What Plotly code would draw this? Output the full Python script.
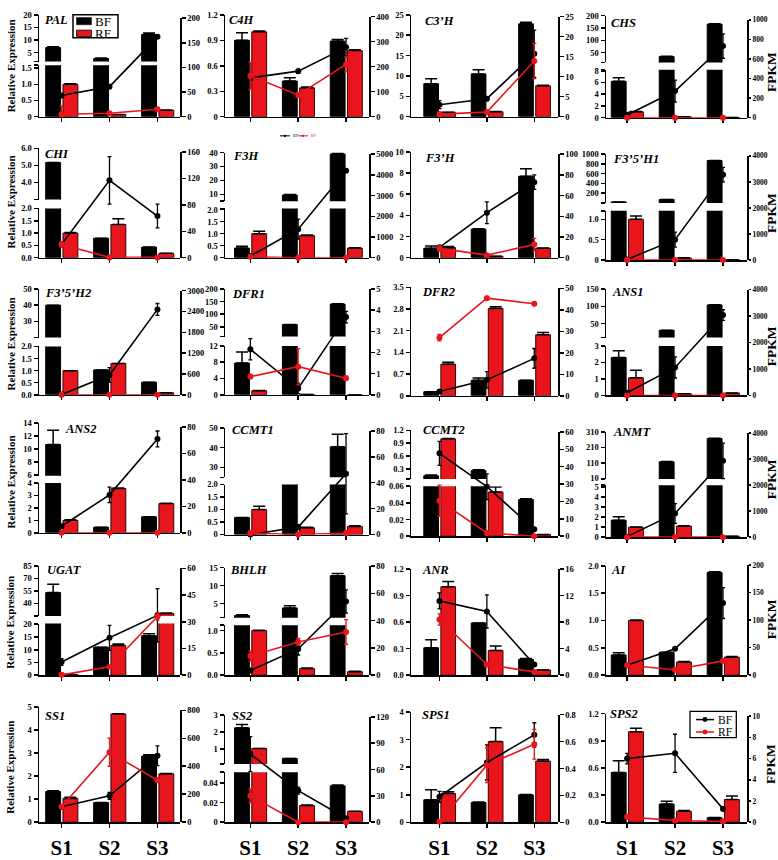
import plotly.graph_objects as go

W, H = 778, 860
FONT = "Liberation Serif, Times New Roman, serif"
BLACK = "#000000"
RED = "#e8161c"

CATS = ["S1", "S2", "S3"]
GENES = ["PAL", "C4H", "C3’H", "CHS",
         "CHI", "F3H", "F3’H", "F3’5’H1",
         "F3’5’H2", "DFR1", "DFR2", "ANS1",
         "ANS2", "CCMT1", "CCMT2", "ANMT",
         "UGAT", "BHLH", "ANR", "AI",
         "SS1", "SS2", "SPS1", "SPS2"]

# ---- relative expression (bars) ----
BF_EXPR = [[7.0, 2.65, 12.2], [0.90, 0.42, 0.89], [8.1, 10.5, 22.8], [6.2, 34, 165],
           [5.17, 0.79, 0.43], [0.4, 9.5, 39], [0.9, 2.7, 7.7], [22, 72, 870],
           [40, 1.03, 0.52], [7.8, 59, 140], [0.13, 0.5, 0.5], [2.3, 31, 104],
           [10.7, 0.45, 1.28], [0.68, 10, 40.5], [0.14, 0.26, 0.044], [1.7, 117, 268],
           [53, 11, 15.5], [1.7, 3.8, 12.8], [0.31, 0.59, 0.18], [0.37, 0.42, 1.88],
           [1.33, 0.85, 2.87], [2.26, 0.45, 0.037], [0.82, 0.72, 1.0], [0.55, 0.2, 0.05]]
BF_EXPR_ERR = [[0.3, 0.2, 0.6], [0.09, 0.04, 0.02], [1.2, 1.0, 0.4], [0.6, 1, 2],
               [0, 0, 0], [0.08, 0.3, 0.5], [0.2, 0.05, 0.7], [0, 0, 0],
               [0, 0, 0], [2.7, 0.5, 1], [0, 0.07, 0], [0.4, 0.5, 0.5],
               [2.2, 0, 0], [0, 0, 6.3], [0.02, 0.02, 0.001], [0.35, 2, 2],
               [10, 0, 0.8], [0.2, 0.6, 0.6], [0.09, 0, 0.01], [0.04, 0, 0.01],
               [0.03, 0, 0.06], [0.2, 0, 0.001], [0.36, 0.02, 0.01], [0.13, 0.03, 0]]
RF_EXPR = [[1.0, 0.07, 0.2], [1.0, 0.34, 0.78], [1.1, 1.2, 7.6], [1.0, 0.15, 0.05],
           [1.0, 1.35, 0.18], [1.0, 0.92, 0.4], [0.95, 0.15, 0.9], [1.0, 0.05, 0.01],
           [1.0, 1.3, 0.08], [1.0, 0.1, 0.0], [1.02, 2.82, 1.97], [1.07, 0.1, 0.15],
           [1.0, 3.55, 2.35], [1.0, 0.27, 0.32], [1.0, 0.053, 0.002], [1.0, 1.1, 0.1],
           [0.3, 11.7, 28], [1.0, 0.15, 0.08], [1.0, 0.28, 0.06], [1.0, 0.24, 0.33],
           [1.03, 4.7, 2.1], [1.04, 0.017, 0.011], [1.05, 2.93, 2.22], [1.0, 0.12, 0.25]]
RF_EXPR_ERR = [[0.02, 0, 0.01], [0.01, 0.01, 0.01], [0, 0.1, 0.1], [0.05, 0, 0],
               [0.02, 0.23, 0], [0.1, 0.02, 0.01], [0.1, 0, 0.02], [0.08, 0.01, 0],
               [0, 0, 0], [0.05, 0, 0], [0.06, 0.05, 0.07], [0.45, 0, 0],
               [0.05, 0.05, 0.03], [0.13, 0.02, 0.03], [0.01, 0.006, 0], [0.02, 0.03, 0],
               [0, 0.6, 0.5], [0.01, 0.01, 0.01], [0.06, 0.05, 0], [0.01, 0.01, 0.01],
               [0.05, 0.01, 0.01], [0, 0.0005, 0], [0.06, 0.5, 0.06], [0.04, 0.01, 0.04]]

# ---- FPKM (lines, right axis) ----
BF_FPKM = [[43, 61, 162], [155, 182, 277], [3.0, 4.5, 15.7], [27, 272, 732],
           [20, 117, 63], [80, 1380, 4200], [10, 43.5, 73], [25, 785, 3280],
           [5, 570, 2460], [2.15, 0.3, 3.67], [2, 7.4, 17.4], [100, 1060, 3040],
           [5, 28.7, 71], [0, 5.7, 47], [47.7, 28.5, 4], [20, 910, 2930],
           [7.4, 21, 33.6], [3.4, 19.3, 54], [11.2, 9.6, 1.6], [18, 48, 131],
           [110, 188, 475], [77.6, 36, 4.5], [0.19, 0.445, 0.65], [6.0, 6.5, 1.25]]
BF_FPKM_ERR = [[0, 2, 3], [5, 8, 36], [1.0, 0.5, 5.9], [5, 112, 125],
               [0, 36, 18], [0, 480, 60], [1, 10.5, 7], [0, 290, 280],
               [0, 210, 170], [0.5, 0.25, 0.27], [0, 3.8, 4.6], [0, 400, 200],
               [0, 5.8, 6], [0, 2, 31], [6.9, 7.4, 0], [0, 380, 680],
               [1.9, 7, 15], [0, 4.5, 8.5], [1.2, 2.5, 0], [0, 2, 28],
               [0, 25, 70], [20, 4, 0], [0.04, 0.13, 0.09], [0.5, 1.8, 0]]
RF_FPKM = [[5, 7, 15], [163, 87, 209], [0.65, 1.15, 13.9], [0, 0, 0],
           [20, 0.5, 0.5], [48, 0, 0], [9, 2.5, 12.7], [0, 0, 0],
           [0, 0, 0], [0.86, 1.33, 0.78], [27, 45.4, 42.8], [0, 0, 0],
           [0, 0, 0], [1, 0, 1], [20.4, 1.9, 0], [0, 0, 0],
           [0.2, 4.8, 33], [14, 24.4, 31.7], [8.4, 1.6, 0.5], [18, 10, 26],
           [110, 500, 300], [30, 0, 0], [0.005, 0.425, 0.58], [0.5, 0.15, 0.05]]
RF_FPKM_ERR = [[17, 2, 2], [55, 8, 30], [0.3, 0.3, 4.4], [0, 0, 0],
               [4, 0, 0], [0, 0, 0], [2.5, 0, 6], [0, 0, 0],
               [0, 0, 0], [0.1, 0.85, 0.1], [1.5, 0.8, 0.5], [0, 0, 0],
               [0, 0, 0], [2, 0, 2], [9, 0, 0], [0, 0, 0],
               [1, 0.5, 2], [3.7, 2.5, 9], [0.85, 0.3, 0.2], [2, 0, 2],
               [0, 100, 0], [8, 0, 0], [0, 0.13, 0.11], [0, 0, 0]]

# ---- axis tick labels ----
LOWER_TICKS = [["0", "0.5", "1.0", "1.5"], ["0", "0.3", "0.6", "0.9", "1.2"],
               ["0", "5", "10", "15", "20", "25"], ["0", "2", "4", "6", "8"],
               ["0.0", "0.5", "1.0", "1.5", "2.0"], ["0", "0.5", "1.0", "1.5", "2.0"],
               ["0", "2", "4", "6", "8", "10"], ["0", "0.5", "1.0"],
               ["0.0", "0.5", "1.0", "1.5", "2.0"], ["0", "4", "8", "12"],
               ["0", "0.7", "1.4", "2.1", "2.8", "3.5"], ["0", "1", "2", "3"],
               ["0", "1", "2", "3", "4"], ["0", "0.5", "1.0", "1.5", "2.0"],
               ["0", "0.02", "0.04", "0.06"], ["0", "1", "2", "3", "4", "5"],
               ["0", "5", "10", "15", "20"], ["0.0", "0.5", "1.0"],
               ["0.0", "0.3", "0.6", "0.9", "1.2"], ["0.0", "0.5", "1.0", "1.5", "2.0"],
               ["0", "1", "2", "3", "4", "5"], ["0", "0.02", "0.04"],
               ["0", "1", "2", "3", "4"], ["0.0", "0.3", "0.6", "0.9", "1.2"]]
LOWER_MAX = [1.59, 1.2, 25, 8.17, 2.0, 2.05, 10, 1.21, 2.0, 12, 3.5, 3,
             4, 2.0, 0.06, 5.2, 20.3, 1.12, 1.2, 2.0, 5, 0.051, 4, 1.2]
UPPER_TICKS = [["5", "10", "15", "20"], None, None, ["50", "100", "150", "200"],
               ["3.0", "4.0", "5.0", "6.0"], ["10", "20", "30", "40"], None,
               ["200", "400", "600", "800", "1000"],
               ["20", "30", "40", "50"], ["50", "100", "150", "200"], None, ["50", "100", "150"],
               ["6", "8", "10", "12", "14"], ["30", "40", "50"], ["0.3", "0.6", "0.9", "1.2"],
               ["10", "110", "210", "310"],
               ["25", "40", "55", "70", "85"], ["5", "10", "15"], None, None,
               None, ["1", "2", "3"], None, None]
UPPER_MIN = [1.47, None, None, 10, 3, 5, None, 1.3, 20, 11, None, 10,
             5.9, 25, 0.065, 6, 25, 1.1, None, None, None, 0.12, None, None]
RIGHT_TICKS = [["0", "50", "100", "150", "200"], ["0", "100", "200", "300", "400"],
               ["0", "5", "10", "15", "20", "25"], ["0", "200", "400", "600", "800", "1000"],
               ["0", "40", "80", "120", "160"], ["0", "1000", "2000", "3000", "4000", "5000"],
               ["0", "20", "40", "60", "80", "100"], ["0", "1000", "2000", "3000", "4000"],
               ["0", "600", "1200", "1800", "2400", "3000"], ["0", "1", "2", "3", "4", "5"],
               ["0", "10", "20", "30", "40", "50"], ["0", "1000", "2000", "3000", "4000"],
               ["0", "20", "40", "60", "80"], ["0", "20", "40", "60", "80"],
               ["0", "10", "20", "30", "40", "50", "60"], ["0", "1000", "2000", "3000", "4000"],
               ["0", "15", "30", "45", "60"], ["0", "20", "40", "60", "80"],
               ["0", "4", "8", "12", "16"], ["0", "50", "100", "150", "200"],
               ["0", "200", "400", "600", "800"], ["0", "30", "60", "90", "120"],
               ["0", "0.2", "0.4", "0.6", "0.8"], ["0", "2", "4", "6", "8", "10"]]

# ---- layout geometry (pixels) ----
COL_X = [(39, 180), (225, 369), (411, 558), (606, 747)]
COL_XRANGE = [(-0.47, 2.47), (-0.53, 2.48), (-0.6, 2.5), (-0.44, 2.5)]
PANEL_TOP = [10, 10, 10, 10.7, 145.3, 149.7, 149, 151.3, 288, 288, 286.3, 288,
             424, 429, 431.3, 433, 568.7, 570.7, 572, 568.7, 712, 720.3, 717, 718.7]
PANEL_BOT = [113.3, 113.3, 113.3, 114.3, 256.3, 256.3, 256.3, 258.7, 395.3, 395.3, 396.3, 396,
             535.3, 537, 538.7, 539.7, 679.7, 679.7, 679.7, 679.7, 828.7, 828.7, 829, 828.7]
RIGHT_TOP = [13.3, 11.7, 11.7, 15, 149, 151.3, 151.3, 153, 289.7, 288, 287.3, 288.7,
             428, 432, 433, 434, 571.3, 569, 572, 568, 715.3, 722, 719.7, 721.3]
# (upper segment bottom, lower segment top) for broken axes
BREAK_PX = [(57.3, 61), None, None, (58.3, 65.7), (197.3, 206.3), (199, 206.3), None, (200.7, 208.7),
            (337.3, 346.3), (336.3, 345.7), None, (337.3, 345.7),
            (477.3, 484.7), (479, 486.3), (480.7, 488), (480.7, 487),
            (619.7, 627.3), (621.3, 629), None, None, None, (769.7, 778), None, None]
TITLE_XY = [(43, 15), (227, 15), (423, 16.7), (609, 18),
            (43, 150.7), (231, 153), (423, 154.7), (611, 156.3),
            (43, 292), (230, 293), (420, 290.7), (610, 290.7),
            (63, 430.3), (230, 431.3), (421, 431.3), (611, 433),
            (45, 573), (228, 573), (420, 573), (609, 573),
            (43, 721.3), (230, 721.3), (420, 719.7), (608, 718.7)]
YTITLE_Y = [61.7, 199.7, 343.7, 483.7, 626, 773]
FPKM_Y = [68, 211, 346, 481, 623, 769.7]


def fx(px):
    return px / W


def fy(py):
    return 1 - py / H


tickfont = dict(family=FONT, size=8.5, color=BLACK, weight="bold")
axis_common = dict(showline=True, linecolor=BLACK, linewidth=1.5, ticks="outside",
                   ticklen=4, tickwidth=1.5, tickcolor=BLACK, showgrid=False,
                   zeroline=False, fixedrange=True, tickfont=tickfont)

fig = go.Figure()
layout = {}


def seg_vals(vals, lo):
    # bars whose top lies below this axis segment are not drawn in it
    return [v if v >= lo else None for v in vals]


def seg_err(vals, errs, lo, hi):
    # error bars only for bars whose top lies inside this axis segment
    return [e if lo <= v <= hi else None for v, e in zip(vals, errs)]


def add_bars(p, xa, ya, lo, hi):
    fig.add_trace(go.Bar(
        x=CATS, y=seg_vals(BF_EXPR[p], lo), xaxis=xa, yaxis=ya, offset=-0.33, width=0.31,
        marker=dict(color=BLACK, line=dict(color=BLACK, width=1)),
        error_y=dict(type="data", array=seg_err(BF_EXPR[p], BF_EXPR_ERR[p], lo, hi),
                     arrayminus=[0, 0, 0], symmetric=False, color=BLACK, thickness=1.5, width=6),
        showlegend=False, hoverinfo="skip"))
    fig.add_trace(go.Bar(
        x=CATS, y=seg_vals(RF_EXPR[p], lo), xaxis=xa, yaxis=ya, offset=0.03, width=0.31,
        marker=dict(color=RED, line=dict(color="#3a0000", width=1)),
        error_y=dict(type="data", array=seg_err(RF_EXPR[p], RF_EXPR_ERR[p], lo, hi),
                     arrayminus=[0, 0, 0], symmetric=False, color=BLACK, thickness=1.5, width=6),
        showlegend=False, hoverinfo="skip"))


for p in range(24):
    r, c = divmod(p, 4)
    xn = p + 1
    ylo, yup, yr = 3 * p + 1, 3 * p + 2, 3 * p + 3
    xa = f"x{xn}"
    x0, x1 = COL_X[c]
    top, bot = PANEL_TOP[p], PANEL_BOT[p]
    layout[f"xaxis{xn}"] = dict(
        axis_common, domain=[fx(x0), fx(x1)], range=list(COL_XRANGE[c]),
        anchor=f"y{ylo}", type="category", categoryorder="array", categoryarray=CATS,
        showticklabels=(r == 5), ticklabelstandoff=2,
        tickfont=dict(family=FONT, size=21, color=BLACK, weight="bold"))
    lvals = [float(t) for t in LOWER_TICKS[p]]
    ltext = list(LOWER_TICKS[p])
    broken = BREAK_PX[p] is not None
    if broken:
        ub, lt = BREAK_PX[p]
        lo_dom = [fy(bot), fy(lt)]
        lvals.append(LOWER_MAX[p])
        ltext.append("")
        umax = float(UPPER_TICKS[p][-1])
        uvals = [UPPER_MIN[p]] + [float(t) for t in UPPER_TICKS[p]]
        utext = [""] + list(UPPER_TICKS[p])
        layout[f"yaxis{yup}"] = dict(
            axis_common, domain=[fy(ub), fy(top)], range=[UPPER_MIN[p], umax],
            tickvals=uvals, ticktext=utext, anchor=xa, side="left")
    else:
        lo_dom = [fy(bot), fy(top)]
    layout[f"yaxis{ylo}"] = dict(
        axis_common, domain=lo_dom, range=[0, LOWER_MAX[p]],
        tickvals=lvals, ticktext=ltext, anchor=xa, side="left")
    rvals = [float(t) for t in RIGHT_TICKS[p]]
    rfont = dict(tickfont, size=7.5) if c == 3 else tickfont
    layout[f"yaxis{yr}"] = dict(
        axis_common, domain=[fy(bot), fy(RIGHT_TOP[p])], range=[0, rvals[-1]],
        tickvals=rvals, ticktext=RIGHT_TICKS[p], anchor=xa, side="right",
        tickfont=rfont, ticklen=(2.5 if c == 3 else 4))

    add_bars(p, xa, f"y{ylo}", 0, LOWER_MAX[p])
    if broken:
        add_bars(p, xa, f"y{yup}", UPPER_MIN[p], 1e12)

    for vals, errs, col in ((BF_FPKM[p], BF_FPKM_ERR[p], BLACK),
                            (RF_FPKM[p], RF_FPKM_ERR[p], RED)):
        fig.add_trace(go.Scatter(
            x=CATS, y=vals, xaxis=xa, yaxis=f"y{yr}", mode="lines+markers",
            line=dict(color=col, width=1.6), marker=dict(color=col, size=6),
            error_y=dict(type="data", array=errs, color=col, thickness=1.3, width=2),
            cliponaxis=False, showlegend=False, hoverinfo="skip"))

annotations = []
shapes = []
for p in range(24):
    tx, ty = TITLE_XY[p]
    annotations.append(dict(text=f"<b><i>{GENES[p]}</i></b>", x=fx(tx), y=fy(ty),
                            xref="paper", yref="paper", xanchor="left", yanchor="middle",
                            showarrow=False, font=dict(family=FONT, size=12.5, color=BLACK)))
for r in range(6):
    annotations.append(dict(text="<b>Relative Expression</b>", x=fx(10.5), y=fy(YTITLE_Y[r]),
                            xref="paper", yref="paper", textangle=-90, showarrow=False,
                            xanchor="center", yanchor="middle",
                            font=dict(family=FONT, size=11, color=BLACK)))
    annotations.append(dict(text="<b>FPKM</b>", x=fx(771), y=fy(FPKM_Y[r]),
                            xref="paper", yref="paper", textangle=-90, showarrow=False,
                            xanchor="center", yanchor="middle",
                            font=dict(family=FONT, size=13.5, color=BLACK)))


def prect(x0, y0, x1, y1, fill, line, lw):
    return dict(type="rect", xref="paper", yref="paper", x0=fx(x0), x1=fx(x1),
                y0=fy(y1), y1=fy(y0), fillcolor=fill, line=dict(color=line, width=lw))


# legend (bars) in PAL panel
shapes.append(prect(73, 10, 118, 33.3, "white", BLACK, 1.5))
shapes.append(prect(76.5, 12.7, 91.5, 20, BLACK, BLACK, 0.5))
shapes.append(prect(76.5, 25.5, 91.5, 32, RED, BLACK, 0.8))
annotations.append(dict(text="BF", x=fx(93), y=fy(16.3), xref="paper", yref="paper",
                        xanchor="left", yanchor="middle", showarrow=False,
                        font=dict(family=FONT, size=13, color=BLACK)))
annotations.append(dict(text="RF", x=fx(93), y=fy(28.8), xref="paper", yref="paper",
                        xanchor="left", yanchor="middle", showarrow=False,
                        font=dict(family=FONT, size=13, color=BLACK)))

# legend (lines) in SPS2 panel
shapes.append(prect(690, 716.3, 736.3, 743, "white", BLACK, 1.3))
for yy, col, lab in ((724.7, BLACK, "BF"), (737.3, RED, "RF")):
    shapes.append(dict(type="line", xref="paper", yref="paper", x0=fx(696), x1=fx(714),
                       y0=fy(yy), y1=fy(yy), line=dict(color=col, width=1.5)))
    shapes.append(dict(type="circle", xref="paper", yref="paper", x0=fx(702.5), x1=fx(707.5),
                       y0=fy(yy + 2.5), y1=fy(yy - 2.5), fillcolor=col, line=dict(color=col, width=0)))
    annotations.append(dict(text=lab, x=fx(716), y=fy(yy), xref="paper", yref="paper",
                            xanchor="left", yanchor="middle", showarrow=False,
                            font=dict(family=FONT, size=11.5, color=BLACK)))

# tiny legend under C4H
for xs, col, lab in ((280, BLACK, "BF"), (298, RED, "RF")):
    shapes.append(dict(type="line", xref="paper", yref="paper", x0=fx(xs), x1=fx(xs + 10),
                       y0=fy(132.7), y1=fy(132.7), line=dict(color=col, width=1)))
    shapes.append(dict(type="circle", xref="paper", yref="paper", x0=fx(xs + 3.8), x1=fx(xs + 6.2),
                       y0=fy(133.9), y1=fy(131.5), fillcolor=col, line=dict(color=col, width=0)))
    annotations.append(dict(text=lab, x=fx(xs + 11), y=fy(132.7), xref="paper", yref="paper",
                            xanchor="left", yanchor="middle", showarrow=False,
                            font=dict(family=FONT, size=4, color=col)))

fig.update_layout(**layout)
fig.update_layout(width=W, height=H, margin=dict(l=0, r=0, t=0, b=0, pad=0),
                  paper_bgcolor="white", plot_bgcolor="rgba(0,0,0,0)",
                  barmode="overlay", showlegend=False,
                  annotations=annotations, shapes=shapes,
                  font=dict(family=FONT, color=BLACK))
fig.write_html("out.html", config={"displayModeBar": False, "staticPlot": True},
               post_script="document.body.style.margin='0';document.body.style.overflow='hidden';")
